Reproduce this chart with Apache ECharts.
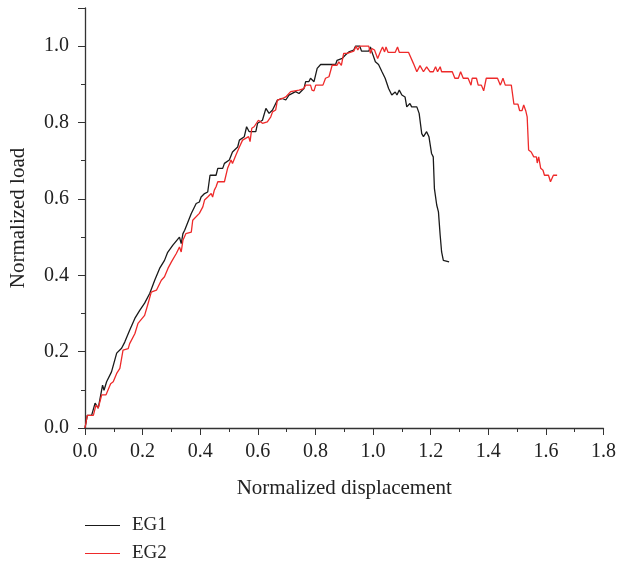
<!DOCTYPE html>
<html>
<head>
<meta charset="utf-8">
<script src="https://cdn.jsdelivr.net/npm/echarts@6/dist/echarts.min.js"></script>
<style>
  html, body { margin: 0; padding: 0; background: #fff; }
  #main { width: 619px; height: 563px; }
</style>
</head>
<body>
<div id="main"></div>
<script>
// normalized displacement / normalized load
var eg1 = [[0,0],[0.008,0.033],[0.023,0.033],[0.035,0.065],[0.046,0.052],[0.061,0.112],[0.066,0.099],[0.075,0.121],[0.092,0.147],[0.110,0.196],[0.127,0.209],[0.138,0.225],[0.155,0.256],[0.173,0.287],[0.190,0.308],[0.207,0.327],[0.225,0.353],[0.242,0.387],[0.259,0.418],[0.276,0.439],[0.287,0.460],[0.305,0.479],[0.328,0.500],[0.334,0.483],[0.340,0.509],[0.346,0.518],[0.369,0.562],[0.386,0.588],[0.397,0.592],[0.403,0.605],[0.415,0.614],[0.426,0.618],[0.434,0.662],[0.455,0.662],[0.461,0.680],[0.478,0.680],[0.484,0.693],[0.501,0.702],[0.512,0.723],[0.530,0.736],[0.536,0.754],[0.553,0.763],[0.561,0.789],[0.570,0.776],[0.593,0.776],[0.599,0.798],[0.616,0.806],[0.628,0.837],[0.639,0.824],[0.651,0.833],[0.668,0.859],[0.685,0.863],[0.697,0.859],[0.708,0.872],[0.731,0.881],[0.743,0.876],[0.760,0.889],[0.766,0.907],[0.777,0.907],[0.783,0.916],[0.795,0.907],[0.806,0.942],[0.818,0.952],[0.870,0.952],[0.875,0.963],[0.880,0.959],[0.893,0.968],[0.904,0.977],[0.916,0.985],[0.933,0.990],[0.939,1.0],[0.954,1.0],[0.960,0.987],[0.985,0.987],[0.991,0.998],[0.996,0.985],[1.008,0.959],[1.019,0.952],[1.031,0.933],[1.042,0.916],[1.054,0.889],[1.065,0.872],[1.077,0.880],[1.083,0.872],[1.091,0.885],[1.100,0.872],[1.111,0.867],[1.117,0.841],[1.128,0.850],[1.134,0.841],[1.152,0.841],[1.160,0.824],[1.169,0.771],[1.175,0.763],[1.186,0.776],[1.194,0.763],[1.203,0.719],[1.209,0.710],[1.213,0.627],[1.221,0.584],[1.227,0.566],[1.233,0.505],[1.238,0.461],[1.244,0.439],[1.250,0.435],[1.264,0.435]];

var eg2 = [[0,0],[0.008,0.033],[0.029,0.033],[0.038,0.060],[0.046,0.052],[0.058,0.087],[0.073,0.087],[0.089,0.116],[0.098,0.121],[0.110,0.143],[0.121,0.156],[0.132,0.204],[0.150,0.208],[0.155,0.221],[0.173,0.247],[0.184,0.274],[0.207,0.295],[0.219,0.326],[0.230,0.356],[0.248,0.361],[0.265,0.387],[0.276,0.396],[0.288,0.418],[0.300,0.435],[0.317,0.457],[0.328,0.474],[0.334,0.461],[0.340,0.492],[0.350,0.509],[0.369,0.513],[0.374,0.544],[0.397,0.562],[0.409,0.579],[0.415,0.597],[0.426,0.605],[0.438,0.614],[0.443,0.605],[0.449,0.623],[0.455,0.632],[0.461,0.645],[0.484,0.645],[0.495,0.680],[0.507,0.702],[0.512,0.693],[0.524,0.715],[0.536,0.736],[0.547,0.754],[0.568,0.763],[0.573,0.750],[0.579,0.785],[0.587,0.789],[0.593,0.785],[0.602,0.806],[0.616,0.798],[0.633,0.802],[0.645,0.815],[0.651,0.828],[0.662,0.833],[0.668,0.859],[0.685,0.863],[0.697,0.867],[0.714,0.881],[0.743,0.885],[0.760,0.889],[0.766,0.898],[0.783,0.898],[0.788,0.885],[0.795,0.883],[0.801,0.898],[0.826,0.898],[0.835,0.916],[0.847,0.920],[0.858,0.950],[0.875,0.950],[0.881,0.959],[0.890,0.950],[0.898,0.981],[0.910,0.981],[0.933,0.987],[0.941,1.0],[0.947,0.990],[0.954,1.0],[0.985,1.0],[0.991,0.981],[0.996,0.994],[1.005,0.990],[1.016,0.968],[1.025,0.985],[1.033,0.998],[1.040,0.985],[1.045,0.998],[1.052,0.984],[1.077,0.984],[1.085,0.998],[1.091,0.984],[1.123,0.984],[1.140,0.955],[1.152,0.933],[1.163,0.949],[1.175,0.933],[1.186,0.946],[1.198,0.933],[1.209,0.933],[1.217,0.946],[1.224,0.933],[1.233,0.946],[1.238,0.933],[1.275,0.933],[1.284,0.916],[1.296,0.916],[1.304,0.933],[1.313,0.916],[1.330,0.916],[1.340,0.898],[1.344,0.916],[1.359,0.916],[1.365,0.898],[1.376,0.898],[1.384,0.883],[1.393,0.916],[1.432,0.916],[1.442,0.898],[1.451,0.916],[1.459,0.898],[1.480,0.898],[1.489,0.848],[1.503,0.848],[1.509,0.831],[1.517,0.831],[1.523,0.846],[1.530,0.831],[1.535,0.815],[1.540,0.728],[1.549,0.723],[1.558,0.710],[1.567,0.710],[1.570,0.694],[1.575,0.710],[1.582,0.680],[1.590,0.675],[1.595,0.662],[1.609,0.662],[1.616,0.645],[1.626,0.662],[1.639,0.662]];

var seriesNames = ['EG1', 'EG2'];
var seriesColors = ['#1a1a1a', '#ee2a2a'];

var font = '"Liberation Serif", "DejaVu Serif", serif';
var axisColor = '#333';

var myChart = echarts.init(document.getElementById('main'));
let option = {
    animation: false,
    textStyle: { fontFamily: font, color: '#222' },
    grid: { left: 85, right: 13, top: 8, bottom: 135 },
    legend: {
        orient: 'vertical',
        left: 85,
        top: 516,
        width: 120,
        height: 80,
        padding: 0,
        itemWidth: 35,
        itemHeight: 14,
        itemGap: 9,
        icon: 'path://M0,6 L35,6 L35,7.2 L0,7.2 Z',
        textStyle: { fontFamily: font, fontSize: 19, lineHeight: 14, color: '#222', padding: [0, 0, 0, 7] },
        data: seriesNames
    },
    xAxis: {
        type: 'value',
        min: 0,
        max: 1.8,
        interval: 0.2,
        name: 'Normalized displacement',
        nameLocation: 'middle',
        nameGap: 50,
        nameTextStyle: { fontFamily: font, fontSize: 21, color: '#222' },
        axisLine: { lineStyle: { color: axisColor, width: 1.3 } },
        axisTick: { length: 7, lineStyle: { color: axisColor } },
        minorTick: { show: true, splitNumber: 2, length: 4, lineStyle: { color: axisColor } },
        axisLabel: {
            margin: 14,
            fontSize: 20,
            color: '#222',
            formatter: function (v) { return v.toFixed(1); }
        },
        splitLine: { show: false }
    },
    yAxis: {
        type: 'value',
        min: 0,
        max: 1.1,
        interval: 0.2,
        name: 'Normalized load',
        nameLocation: 'middle',
        nameGap: 56,
        nameTextStyle: { fontFamily: font, fontSize: 21, color: '#222' },
        axisLine: { show: true, lineStyle: { color: axisColor, width: 1.3 } },
        axisTick: { show: true, length: 7, lineStyle: { color: axisColor } },
        minorTick: { show: true, splitNumber: 2, length: 4, lineStyle: { color: axisColor } },
        axisLabel: {
            margin: 16,
            fontSize: 20,
            color: '#222',
            showMaxLabel: false,
            formatter: function (v) { return v.toFixed(1); }
        },
        splitLine: { show: false }
    },
    series: [
        {
            name: seriesNames[0],
            type: 'line',
            data: eg1,
            showSymbol: false,
            lineStyle: { color: seriesColors[0], width: 1.3 },
            itemStyle: { color: seriesColors[0] }
        },
        {
            name: seriesNames[1],
            type: 'line',
            data: eg2,
            showSymbol: false,
            lineStyle: { color: seriesColors[1], width: 1.3 },
            itemStyle: { color: seriesColors[1] }
        }
    ]
};
myChart.setOption(option);
</script>
</body>
</html>
